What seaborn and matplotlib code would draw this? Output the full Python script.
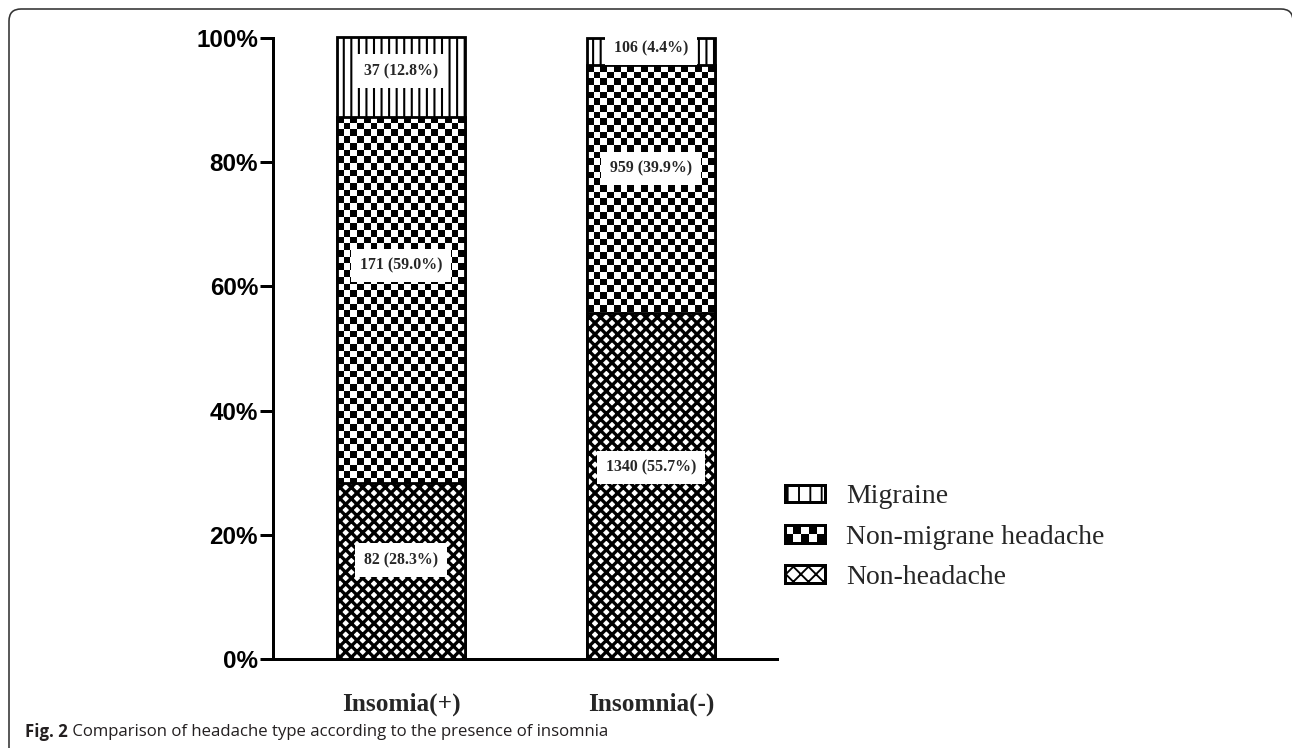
import numpy as np
import pandas as pd
import matplotlib
matplotlib.use("Agg")
import matplotlib.pyplot as plt
import seaborn as sns
from matplotlib.patches import Patch, Rectangle, FancyBboxPatch
from matplotlib.legend_handler import HandlerBase
from matplotlib.transforms import IdentityTransform

# ---------------- data ----------------
categories = ["Insomia(+)", "Insomnia(-)"]
series_names = ["Migraine", "Non-migrane headache", "Non-headache"]
migraine_n = [37, 106]
migraine_pct = [12.8, 4.4]
nonmigraine_n = [171, 959]
nonmigraine_pct = [59.0, 39.9]
nonheadache_n = [82, 1340]
nonheadache_pct = [28.3, 55.7]
y_ticks = [0, 20, 40, 60, 80, 100]
y_tick_labels = ["0%", "20%", "40%", "60%", "80%", "100%"]
caption_bold = "Fig. 2"
caption_rest = " Comparison of headache type according to the presence of insomnia"

# ---------------- style ----------------
DPI = 136
W, H = 1292, 748
sns.set_style("ticks")
plt.rcParams["font.family"] = ["Liberation Serif", "DejaVu Serif"]
px = 72.0 / DPI  # points per pixel

fig = plt.figure(figsize=(W / DPI, H / DPI), dpi=DPI)
AX_L, AX_R, AX_T, AX_B = 273, 777, 38, 659
ax = fig.add_axes([AX_L / W, 1 - AX_B / H, (AX_R - AX_L) / W, (AX_B - AX_T) / H])

# order bottom -> top
pct = np.array([nonheadache_pct, nonmigraine_pct, migraine_pct])
counts = np.array([nonheadache_n, nonmigraine_n, migraine_n])
tops = pct.cumsum(axis=0)
bottoms = tops - pct
hatches = ["xxxx", None, "|||"]
hatch_lw = [1.75, 1.0, 1.1]
# small vertical nudges of the value labels (style, in % units), rows bottom->top
label_nudge = np.array([[1.8, 3.0], [5.6, 3.3], [1.0, 0.6]])

layer_patches = {}
for z, i in enumerate([2, 1, 0]):
    n0 = len(ax.patches)
    df = pd.DataFrame({"group": categories, "value": tops[i]})
    with plt.rc_context({"hatch.linewidth": hatch_lw[i], "hatch.color": "black"}):
        sns.barplot(data=df, x="group", y="value", order=categories, width=0.512,
                    color="white", saturation=1, edgecolor="black",
                    linewidth=2.8 * px, ax=ax)
    new = ax.patches[n0:]
    for p in new:
        p.set_facecolor("white" if i != 1 else "none")
        p.set_edgecolor("black")
        p.set_linewidth(2.8 * px)
        p.set_zorder(2 + z)
        p.set_clip_on(False)
        if hatches[i]:
            p.set_hatch(hatches[i])
            if hasattr(p, "set_hatch_linewidth"):
                p.set_hatch_linewidth(hatch_lw[i])
    layer_patches[i] = new

XLIM = (-0.512, 1.504)
ax.set_xlim(*XLIM)
ax.set_ylim(0, 100)

# checkerboard texture for the non-migraine layer
sq = 6.7
for p in layer_patches[1]:
    bb = p.get_bbox()
    x0, x1, y0, y1 = bb.x0, bb.x1, bb.y0, bb.y1
    (px0, py0) = ax.transData.transform((x0, y0))
    (px1, py1) = ax.transData.transform((x1, y1))
    nx = max(1, int(round((px1 - px0) / sq)))
    ny = max(1, int(round((py1 - py0) / sq)))
    arr = np.add.outer(np.arange(ny), np.arange(nx)) % 2
    im = ax.imshow(arr, cmap="gray", vmin=0, vmax=1, extent=(x0, x1, y0, y1),
                   origin="lower", aspect="auto", interpolation="nearest", zorder=2.5)
    im.set_clip_path(p)

ax.set_xlim(*XLIM)
ax.set_ylim(0, 100)

# value labels
for i in range(3):
    for j in range(len(categories)):
        yc = min(bottoms[i, j] + pct[i, j] / 2 + label_nudge[i, j], tops[i, j] - 1.6)
        ax.text(j, yc, f"{counts[i, j]} ({pct[i, j]:.1f}%)", ha="center", va="center",
                fontsize=8.4, fontweight="bold", family=["Liberation Serif"], zorder=10,
                bbox=dict(facecolor="white", edgecolor="none", boxstyle="square,pad=0.55"))

# axes styling
sns.despine(ax=ax)
for s in ["left", "bottom"]:
    ax.spines[s].set_linewidth(3 * px)
    ax.spines[s].set_color("black")
ax.set_xlabel("")
ax.set_ylabel("")
ax.set_yticks(y_ticks)
ax.set_yticklabels(y_tick_labels, family=["Liberation Sans"], fontweight="bold", fontsize=12.8)
ax.tick_params(axis="y", length=13 * px, width=3 * px, pad=1, colors="black")
ax.set_xticks(range(len(categories)))
ax.set_xticklabels(categories, family=["Liberation Serif"], fontweight="bold", fontsize=13.4)
ax.tick_params(axis="x", length=0, pad=17.8)

# legend
class HandlerChecker(HandlerBase):
    def create_artists(self, legend, orig_handle, xdescent, ydescent, width, height, fontsize, trans):
        arts = []
        ncol, nrow = 5, 2
        w, h = width / ncol, height / nrow
        for r in range(nrow):
            for c in range(ncol):
                col = "black" if (r + c) % 2 == 0 else "white"
                arts.append(Rectangle((-xdescent + c * w, -ydescent + r * h), w, h,
                                      facecolor=col, edgecolor="none", transform=trans))
        arts.append(Rectangle((-xdescent, -ydescent), width, height, facecolor="none",
                              edgecolor="black", linewidth=3 * px, transform=trans))
        return arts

class CheckerHandle:
    pass

with plt.rc_context({"hatch.linewidth": 1.5}):
    h_mig = Patch(facecolor="white", edgecolor="black", hatch="||", linewidth=3 * px)
    h_non = Patch(facecolor="white", edgecolor="black", hatch="xxx", linewidth=3 * px)
h_chk = CheckerHandle()
leg = fig.legend([h_mig, h_chk, h_non], series_names, loc="center left",
                 bbox_to_anchor=(785 / W, 1 - 537 / H), frameon=False,
                 prop={"family": "Liberation Serif", "size": 14.7},
                 handlelength=1.44, handleheight=0.61, handletextpad=0.75,
                 labelspacing=0.55, borderpad=0, borderaxespad=0,
                 handler_map={CheckerHandle: HandlerChecker()})

# caption
r = fig.canvas.get_renderer()
t1 = fig.text(25 / W, 1 - 732 / H, caption_bold, fontweight="bold", family=["Open Sans", "DejaVu Sans"],
              fontsize=8.9, va="center", ha="left", color="#231f20")
bb = t1.get_window_extent(r)
fig.text(bb.x1 / W, 1 - 732 / H, caption_rest, family=["Open Sans", "DejaVu Sans"],
         fontsize=8.9, va="center", ha="left", color="#231f20")

# frame
frame = FancyBboxPatch((9, -40), 1284, H - 9 + 40, boxstyle="round,pad=0,rounding_size=12",
                       transform=IdentityTransform(), facecolor="none", edgecolor="#333333",
                       linewidth=1.6 * px)
fig.patches.append(frame)

fig.savefig("out.png", dpi=DPI)
